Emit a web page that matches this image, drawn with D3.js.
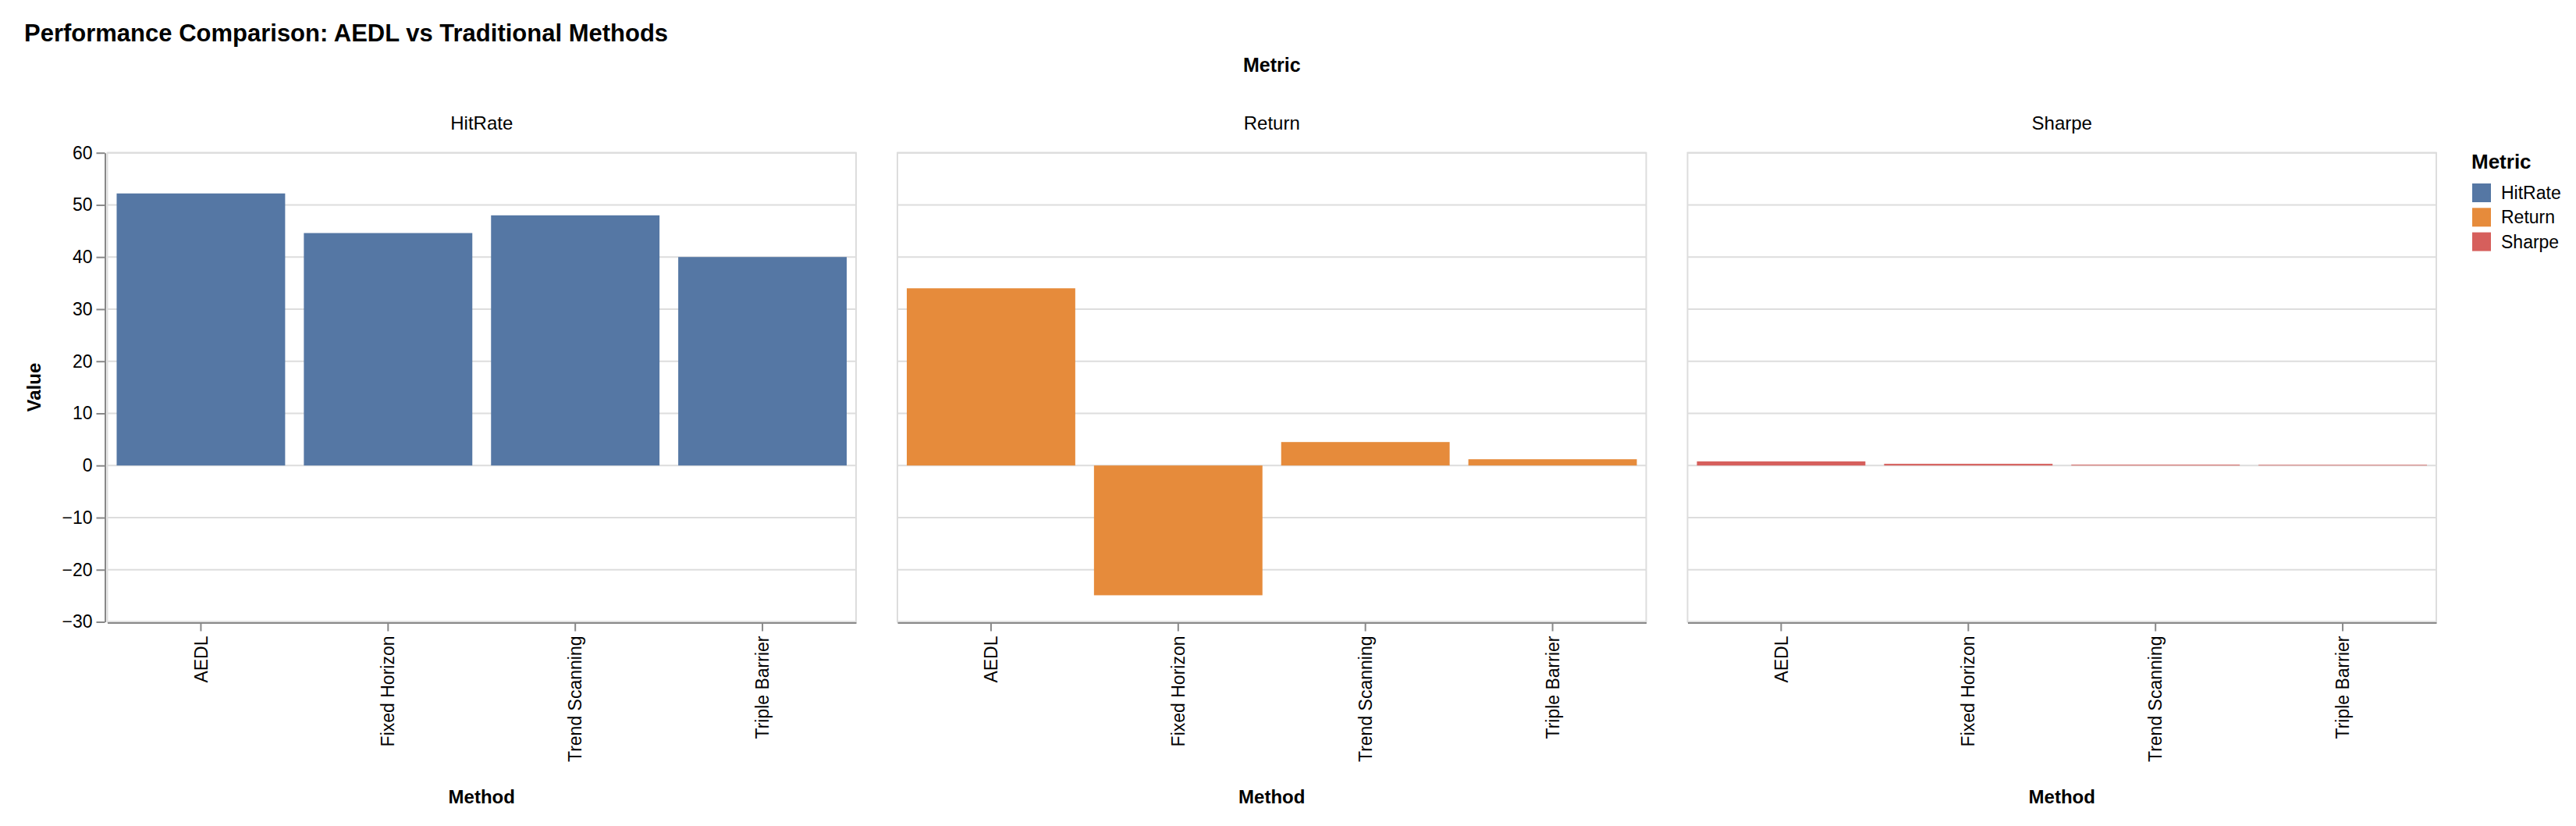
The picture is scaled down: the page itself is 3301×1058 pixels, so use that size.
<!DOCTYPE html>
<html>
<head>
<meta charset="utf-8">
<script src="https://cdn.jsdelivr.net/npm/d3@7"></script>
<style>
  body { margin: 0; background: #fff; }
  svg text { font-family: "Liberation Sans", Arial, Helvetica, sans-serif; fill: #000; }
</style>
</head>
<body>
<script>
// data
var methods = ["AEDL", "Fixed Horizon", "Trend Scanning", "Triple Barrier"];
var metrics = ["HitRate", "Return", "Sharpe"];
var hitRate = [52.2, 44.6, 48.0, 40.0];
var returns = [34.0, -24.9, 4.5, 1.2];
var sharpe  = [0.78, 0.32, 0.15, 0.12];
var yTicks = [-30, -20, -10, 0, 10, 20, 30, 40, 50, 60];
var colors = ["#5577a4", "#e68b3b", "#d65f5c"];

var seriesByMetric = { HitRate: hitRate, Return: returns, Sharpe: sharpe };

var width = 3301, height = 1058;
var panelTop = 195.7, panelBottom = 796.5;
var panelW = 959.5, panelGap = 53, firstLeft = 137.5;

var svg = d3.select("body").append("svg")
    .attr("width", width)
    .attr("height", height);

var color = d3.scaleOrdinal().domain(metrics).range(colors);

var fx = d3.scaleBand()
    .domain(metrics)
    .range([firstLeft, firstLeft + 3 * panelW + 2 * panelGap])
    .paddingInner(panelGap / (panelW + panelGap));

var y = d3.scaleLinear().domain([-30, 60]).range([panelBottom, panelTop]);

var x = d3.scaleBand()
    .domain(methods)
    .range([0, panelW])
    .paddingInner(0.1)
    .paddingOuter(0.05);

// title
svg.append("text")
    .attr("x", 31).attr("y", 53)
    .style("font-size", "31px").style("font-weight", "bold")
    .text("Performance Comparison: AEDL vs Traditional Methods");

// column header title
svg.append("text")
    .attr("x", (firstLeft + fx.range()[1]) / 2).attr("y", 92)
    .attr("text-anchor", "middle")
    .style("font-size", "25px").style("font-weight", "bold")
    .text("Metric");

metrics.forEach(function(m, i) {
  var left = fx(m);
  var g = svg.append("g").attr("transform", "translate(" + left + ",0)");

  // header label
  g.append("text")
    .attr("x", panelW / 2).attr("y", 166)
    .attr("text-anchor", "middle")
    .style("font-size", "24px")
    .text(m);

  // grid
  g.selectAll(".grid").data(yTicks).enter().append("line")
    .attr("x1", 0).attr("x2", panelW)
    .attr("y1", function(d) { return y(d); })
    .attr("y2", function(d) { return y(d); })
    .attr("stroke", "#ddd").attr("stroke-width", 2);

  g.append("rect")
    .attr("x", 0).attr("y", panelTop)
    .attr("width", panelW).attr("height", panelBottom - panelTop)
    .attr("fill", "none").attr("stroke", "#ddd").attr("stroke-width", 2);

  // bars
  var vals = seriesByMetric[m];
  g.selectAll(".bar").data(methods).enter().append("rect")
    .attr("x", function(d) { return x(d); })
    .attr("width", x.bandwidth())
    .attr("y", function(d, j) { return y(Math.max(0, vals[j])); })
    .attr("height", function(d, j) { return Math.abs(y(vals[j]) - y(0)); })
    .attr("fill", color(m));

  // x axis
  var xa = g.append("g")
    .attr("transform", "translate(0," + (panelBottom + 1) + ")")
    .call(d3.axisBottom(x).tickSize(11).tickSizeOuter(0));
  xa.select(".domain").attr("stroke", "#888").attr("stroke-width", 2);
  xa.selectAll(".tick line").attr("stroke", "#888").attr("stroke-width", 2);
  xa.selectAll(".tick text")
    .attr("transform", "rotate(-90)")
    .attr("x", -17).attr("y", 0).attr("dy", "0.35em")
    .attr("text-anchor", "end")
    .style("font-size", "23px").attr("fill", "#000");

  g.append("text")
    .attr("x", panelW / 2).attr("y", 1029)
    .attr("text-anchor", "middle")
    .style("font-size", "24px").style("font-weight", "bold")
    .text("Method");

  if (i === 0) {
    var ya = svg.append("g")
      .attr("transform", "translate(" + (left - 3) + ",0)")
      .call(d3.axisLeft(y).tickValues(yTicks).tickSize(11).tickPadding(5).tickSizeOuter(0)
        .tickFormat(function(d) { return d < 0 ? "\u2212" + Math.abs(d) : d; }));
    ya.select(".domain").attr("stroke", "#888").attr("stroke-width", 2);
    ya.selectAll(".tick line").attr("stroke", "#888").attr("stroke-width", 2);
    ya.selectAll(".tick text").style("font-size", "23px").attr("fill", "#000");

    svg.append("text")
      .attr("transform", "translate(52," + ((panelTop + panelBottom) / 2) + ") rotate(-90)")
      .attr("text-anchor", "middle")
      .style("font-size", "24px").style("font-weight", "bold")
      .text("Value");
  }
});

// legend
var legend = svg.append("g").attr("transform", "translate(3167,0)");
legend.append("text")
  .attr("x", 0).attr("y", 216)
  .style("font-size", "26px").style("font-weight", "bold")
  .text("Metric");

var items = legend.selectAll(".item").data(metrics).enter().append("g")
  .attr("transform", function(d, i) { return "translate(0," + (235 + i * 31.3) + ")"; });
items.append("rect")
  .attr("x", 1).attr("y", 0).attr("width", 24).attr("height", 24)
  .attr("fill", function(d) { return color(d); });
items.append("text")
  .attr("x", 38).attr("y", 12).attr("dy", "0.35em")
  .style("font-size", "23px")
  .text(function(d) { return d; });
</script>
</body>
</html>
